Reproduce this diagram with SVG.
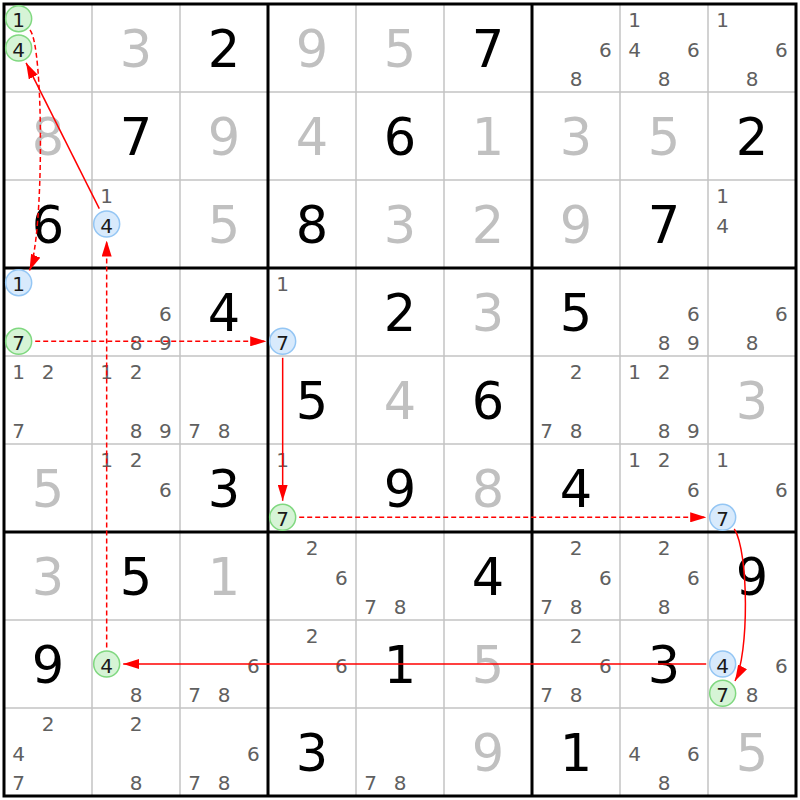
<svg xmlns="http://www.w3.org/2000/svg" width="800" height="800" viewBox="0 0 800 800">
<style>
text{font-family:"DejaVu Sans","Liberation Sans",sans-serif;text-anchor:middle}
.b{font-size:51px;fill:#000}
.s{font-size:51px;fill:#c0c0c0}
.c{font-size:20px;fill:#606060}
.k{font-size:20px;fill:#1a1a1a}
.thin{stroke:#c4c4c4;stroke-width:1.5}
.thick{stroke:#000;stroke-width:3}
.gr{fill:#d6f4d6;stroke:#80d880;stroke-width:1.5}
.bl{fill:#d8eafc;stroke:#94c6f4;stroke-width:1.5}
.arr{fill:none;stroke:#ff0000;stroke-width:1.5}
.dash{stroke-dasharray:5,3}
</style>
<defs>
<marker id="ah" markerUnits="userSpaceOnUse" markerWidth="16" markerHeight="10" refX="16" refY="5" orient="auto">
<path d="M0,0 L16,5 L0,10 z" fill="#ff0000"/>
</marker>
</defs>
<rect width="800" height="800" fill="#fff"/>
<g id="grid">
<path class="thin" d="M92,4V796M180,4V796M356,4V796M444,4V796M620,4V796M708,4V796M4,92H796M4,180H796M4,356H796M4,444H796M4,620H796M4,708H796"/>
<path class="thick" fill="none" d="M268,4V796M532,4V796M4,268H796M4,532H796"/>
<rect class="thick" fill="none" x="4" y="4" width="792" height="792"/>
</g>
<g id="r0">
<g id="r0c0"><circle class="gr" cx="18.67" cy="18.67" r="13"/><text class="k" x="18.67" y="27.3">1</text><circle class="gr" cx="18.67" cy="48" r="13"/><text class="k" x="18.67" y="56.6">4</text></g>
<g id="r0c1"><text class="s" x="136" y="66.7">3</text></g>
<g id="r0c2"><text class="b" x="224" y="66.7">2</text></g>
<g id="r0c3"><text class="s" x="312" y="66.7">9</text></g>
<g id="r0c4"><text class="s" x="400" y="66.7">5</text></g>
<g id="r0c5"><text class="b" x="488" y="66.7">7</text></g>
<g id="r0c6"><text class="c" x="605.33" y="56.6">6</text><text class="c" x="576" y="85.9">8</text></g>
<g id="r0c7"><text class="c" x="634.67" y="27.3">1</text><text class="c" x="634.67" y="56.6">4</text><text class="c" x="693.33" y="56.6">6</text><text class="c" x="664" y="85.9">8</text></g>
<g id="r0c8"><text class="c" x="722.67" y="27.3">1</text><text class="c" x="781.33" y="56.6">6</text><text class="c" x="752" y="85.9">8</text></g>
</g>
<g id="r1">
<g id="r1c0"><text class="s" x="48" y="154.7">8</text></g>
<g id="r1c1"><text class="b" x="136" y="154.7">7</text></g>
<g id="r1c2"><text class="s" x="224" y="154.7">9</text></g>
<g id="r1c3"><text class="s" x="312" y="154.7">4</text></g>
<g id="r1c4"><text class="b" x="400" y="154.7">6</text></g>
<g id="r1c5"><text class="s" x="488" y="154.7">1</text></g>
<g id="r1c6"><text class="s" x="576" y="154.7">3</text></g>
<g id="r1c7"><text class="s" x="664" y="154.7">5</text></g>
<g id="r1c8"><text class="b" x="752" y="154.7">2</text></g>
</g>
<g id="r2">
<g id="r2c0"><text class="b" x="48" y="242.7">6</text></g>
<g id="r2c1"><text class="c" x="106.67" y="203.3">1</text><circle class="bl" cx="106.67" cy="224" r="13"/><text class="k" x="106.67" y="232.6">4</text></g>
<g id="r2c2"><text class="s" x="224" y="242.7">5</text></g>
<g id="r2c3"><text class="b" x="312" y="242.7">8</text></g>
<g id="r2c4"><text class="s" x="400" y="242.7">3</text></g>
<g id="r2c5"><text class="s" x="488" y="242.7">2</text></g>
<g id="r2c6"><text class="s" x="576" y="242.7">9</text></g>
<g id="r2c7"><text class="b" x="664" y="242.7">7</text></g>
<g id="r2c8"><text class="c" x="722.67" y="203.3">1</text><text class="c" x="722.67" y="232.6">4</text></g>
</g>
<g id="r3">
<g id="r3c0"><circle class="bl" cx="18.67" cy="282.67" r="13"/><text class="k" x="18.67" y="291.3">1</text><circle class="gr" cx="18.67" cy="341.33" r="13"/><text class="k" x="18.67" y="349.9">7</text></g>
<g id="r3c1"><text class="c" x="165.33" y="320.6">6</text><text class="c" x="136" y="349.9">8</text><text class="c" x="165.33" y="349.9">9</text></g>
<g id="r3c2"><text class="b" x="224" y="330.7">4</text></g>
<g id="r3c3"><text class="c" x="282.67" y="291.3">1</text><circle class="bl" cx="282.67" cy="341.33" r="13"/><text class="k" x="282.67" y="349.9">7</text></g>
<g id="r3c4"><text class="b" x="400" y="330.7">2</text></g>
<g id="r3c5"><text class="s" x="488" y="330.7">3</text></g>
<g id="r3c6"><text class="b" x="576" y="330.7">5</text></g>
<g id="r3c7"><text class="c" x="693.33" y="320.6">6</text><text class="c" x="664" y="349.9">8</text><text class="c" x="693.33" y="349.9">9</text></g>
<g id="r3c8"><text class="c" x="781.33" y="320.6">6</text><text class="c" x="752" y="349.9">8</text></g>
</g>
<g id="r4">
<g id="r4c0"><text class="c" x="18.67" y="379.3">1</text><text class="c" x="48" y="379.3">2</text><text class="c" x="18.67" y="437.9">7</text></g>
<g id="r4c1"><text class="c" x="106.67" y="379.3">1</text><text class="c" x="136" y="379.3">2</text><text class="c" x="136" y="437.9">8</text><text class="c" x="165.33" y="437.9">9</text></g>
<g id="r4c2"><text class="c" x="194.67" y="437.9">7</text><text class="c" x="224" y="437.9">8</text></g>
<g id="r4c3"><text class="b" x="312" y="418.7">5</text></g>
<g id="r4c4"><text class="s" x="400" y="418.7">4</text></g>
<g id="r4c5"><text class="b" x="488" y="418.7">6</text></g>
<g id="r4c6"><text class="c" x="576" y="379.3">2</text><text class="c" x="546.67" y="437.9">7</text><text class="c" x="576" y="437.9">8</text></g>
<g id="r4c7"><text class="c" x="634.67" y="379.3">1</text><text class="c" x="664" y="379.3">2</text><text class="c" x="664" y="437.9">8</text><text class="c" x="693.33" y="437.9">9</text></g>
<g id="r4c8"><text class="s" x="752" y="418.7">3</text></g>
</g>
<g id="r5">
<g id="r5c0"><text class="s" x="48" y="506.7">5</text></g>
<g id="r5c1"><text class="c" x="106.67" y="467.3">1</text><text class="c" x="136" y="467.3">2</text><text class="c" x="165.33" y="496.6">6</text></g>
<g id="r5c2"><text class="b" x="224" y="506.7">3</text></g>
<g id="r5c3"><text class="c" x="282.67" y="467.3">1</text><circle class="gr" cx="282.67" cy="517.33" r="13"/><text class="k" x="282.67" y="525.9">7</text></g>
<g id="r5c4"><text class="b" x="400" y="506.7">9</text></g>
<g id="r5c5"><text class="s" x="488" y="506.7">8</text></g>
<g id="r5c6"><text class="b" x="576" y="506.7">4</text></g>
<g id="r5c7"><text class="c" x="634.67" y="467.3">1</text><text class="c" x="664" y="467.3">2</text><text class="c" x="693.33" y="496.6">6</text></g>
<g id="r5c8"><text class="c" x="722.67" y="467.3">1</text><text class="c" x="781.33" y="496.6">6</text><circle class="bl" cx="722.67" cy="517.33" r="13"/><text class="k" x="722.67" y="525.9">7</text></g>
</g>
<g id="r6">
<g id="r6c0"><text class="s" x="48" y="594.7">3</text></g>
<g id="r6c1"><text class="b" x="136" y="594.7">5</text></g>
<g id="r6c2"><text class="s" x="224" y="594.7">1</text></g>
<g id="r6c3"><text class="c" x="312" y="555.3">2</text><text class="c" x="341.33" y="584.6">6</text></g>
<g id="r6c4"><text class="c" x="370.67" y="613.9">7</text><text class="c" x="400" y="613.9">8</text></g>
<g id="r6c5"><text class="b" x="488" y="594.7">4</text></g>
<g id="r6c6"><text class="c" x="576" y="555.3">2</text><text class="c" x="605.33" y="584.6">6</text><text class="c" x="546.67" y="613.9">7</text><text class="c" x="576" y="613.9">8</text></g>
<g id="r6c7"><text class="c" x="664" y="555.3">2</text><text class="c" x="693.33" y="584.6">6</text><text class="c" x="664" y="613.9">8</text></g>
<g id="r6c8"><text class="b" x="752" y="594.7">9</text></g>
</g>
<g id="r7">
<g id="r7c0"><text class="b" x="48" y="682.7">9</text></g>
<g id="r7c1"><circle class="gr" cx="106.67" cy="664" r="13"/><text class="k" x="106.67" y="672.6">4</text><text class="c" x="136" y="701.9">8</text></g>
<g id="r7c2"><text class="c" x="253.33" y="672.6">6</text><text class="c" x="194.67" y="701.9">7</text><text class="c" x="224" y="701.9">8</text></g>
<g id="r7c3"><text class="c" x="312" y="643.3">2</text><text class="c" x="341.33" y="672.6">6</text></g>
<g id="r7c4"><text class="b" x="400" y="682.7">1</text></g>
<g id="r7c5"><text class="s" x="488" y="682.7">5</text></g>
<g id="r7c6"><text class="c" x="576" y="643.3">2</text><text class="c" x="605.33" y="672.6">6</text><text class="c" x="546.67" y="701.9">7</text><text class="c" x="576" y="701.9">8</text></g>
<g id="r7c7"><text class="b" x="664" y="682.7">3</text></g>
<g id="r7c8"><circle class="bl" cx="722.67" cy="664" r="13"/><text class="k" x="722.67" y="672.6">4</text><text class="c" x="781.33" y="672.6">6</text><circle class="gr" cx="722.67" cy="693.33" r="13"/><text class="k" x="722.67" y="701.9">7</text><text class="c" x="752" y="701.9">8</text></g>
</g>
<g id="r8">
<g id="r8c0"><text class="c" x="48" y="731.3">2</text><text class="c" x="18.67" y="760.6">4</text><text class="c" x="18.67" y="789.9">7</text></g>
<g id="r8c1"><text class="c" x="136" y="731.3">2</text><text class="c" x="136" y="789.9">8</text></g>
<g id="r8c2"><text class="c" x="253.33" y="760.6">6</text><text class="c" x="194.67" y="789.9">7</text><text class="c" x="224" y="789.9">8</text></g>
<g id="r8c3"><text class="b" x="312" y="770.7">3</text></g>
<g id="r8c4"><text class="c" x="370.67" y="789.9">7</text><text class="c" x="400" y="789.9">8</text></g>
<g id="r8c5"><text class="s" x="488" y="770.7">9</text></g>
<g id="r8c6"><text class="b" x="576" y="770.7">1</text></g>
<g id="r8c7"><text class="c" x="634.67" y="760.6">4</text><text class="c" x="693.33" y="760.6">6</text><text class="c" x="664" y="789.9">8</text></g>
<g id="r8c8"><text class="s" x="752" y="770.7">5</text></g>
</g>
<g id="connectors">
<path class="arr dash" d="M30,30 C44,46 44,236 29.5,270.5" marker-end="url(#ah)"/>
<path class="arr" d="M99.3,208.6 L26.1,62.8" marker-end="url(#ah)"/>
<path class="arr dash" d="M106.67,647.5 L106.67,240.5" marker-end="url(#ah)"/>
<path class="arr dash" d="M35.2,341.33 L266.2,341.33" marker-end="url(#ah)"/>
<path class="arr" d="M282.67,357.8 L282.67,500.8" marker-end="url(#ah)"/>
<path class="arr dash" d="M299.2,517.33 L706.2,517.33" marker-end="url(#ah)"/>
<path class="arr" d="M734.3,528.8 C749,552 749,655 735,681" marker-end="url(#ah)"/>
<path class="arr" d="M706.2,664 L123.2,664" marker-end="url(#ah)"/>
</g>
</svg>
